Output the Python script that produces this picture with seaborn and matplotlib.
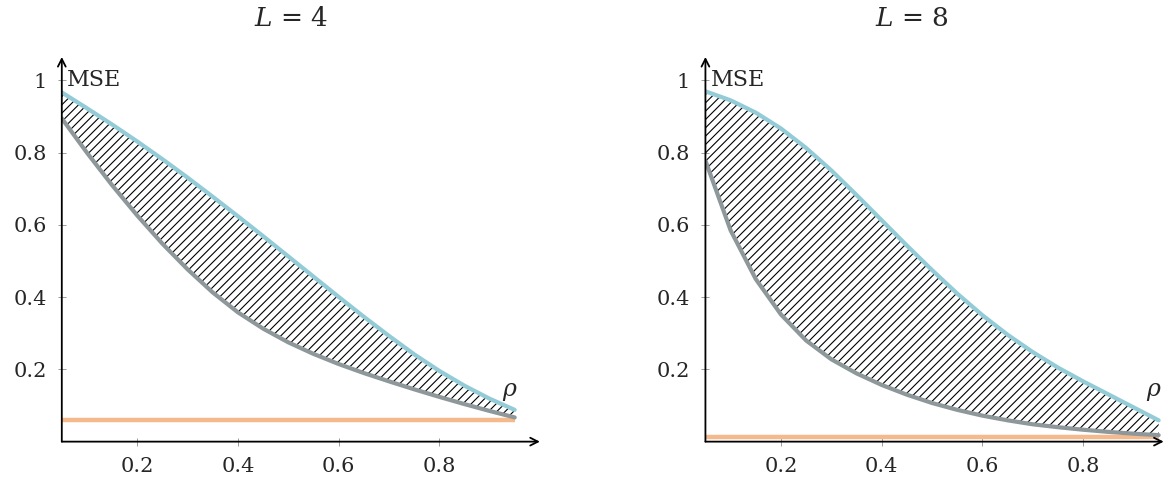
import seaborn as sns
import matplotlib.pyplot as plt
import pandas as pd
import numpy as np

rho = [0.05, 0.10, 0.15, 0.20, 0.25, 0.30, 0.35, 0.40, 0.45, 0.50,
       0.55, 0.60, 0.65, 0.70, 0.75, 0.80, 0.85, 0.90, 0.95]

# L = 4
upper_l4 = [0.967, 0.923, 0.878, 0.831, 0.782, 0.731, 0.678, 0.624, 0.569, 0.513,
            0.457, 0.401, 0.346, 0.293, 0.242, 0.196, 0.155, 0.119, 0.088]
lower_l4 = [0.895, 0.800, 0.710, 0.626, 0.548, 0.477, 0.413, 0.358, 0.313, 0.275,
            0.243, 0.215, 0.190, 0.167, 0.145, 0.124, 0.104, 0.085, 0.067]
floor_l4 = 0.059

# L = 8
upper_l8 = [0.970, 0.945, 0.911, 0.867, 0.813, 0.751, 0.683, 0.613, 0.543, 0.475,
            0.410, 0.350, 0.296, 0.248, 0.205, 0.167, 0.131, 0.095, 0.059]
lower_l8 = [0.778, 0.585, 0.450, 0.352, 0.280, 0.228, 0.189, 0.157, 0.130, 0.107,
            0.088, 0.072, 0.059, 0.048, 0.040, 0.033, 0.027, 0.022, 0.018]
floor_l8 = 0.013

titles = ['$L$ = 4', '$L$ = 8']
xticks = [0.2, 0.4, 0.6, 0.8]
yticks = [0.2, 0.4, 0.6, 0.8, 1.0]
ytick_labels = ['0.2', '0.4', '0.6', '0.8', '1']

blue = '#93cbd6'
gray = '#8e989a'
orange = '#f6b98c'

sns.set_style('white')
plt.rcParams['font.family'] = ['DejaVu Serif']
plt.rcParams['mathtext.fontset'] = 'dejavuserif'
plt.rcParams['hatch.linewidth'] = 0.8

fig = plt.figure(figsize=(11.66, 4.79), dpi=100)
ax1 = fig.add_axes([0.053, 0.078, 0.41, 0.803])
ax2 = fig.add_axes([0.605, 0.078, 0.393, 0.803])

panels = [(ax1, upper_l4, lower_l4, floor_l4, 1.0, 0.48),
          (ax2, upper_l8, lower_l8, floor_l8, 0.96, 0.45)]

for i, (ax, up, lo, fl, xmax, tx) in enumerate(panels):
    df = pd.DataFrame({'rho': rho, 'upper': up, 'lower': lo})
    ax.fill_between(df['rho'], df['lower'], df['upper'], facecolor='none',
                    edgecolor='black', hatch='////', linewidth=0)
    ax.plot([rho[0], rho[-1]], [fl, fl], color=orange, lw=3.2,
            solid_capstyle='butt', zorder=2)
    sns.lineplot(data=df, x='rho', y='lower', ax=ax, color=gray, lw=3,
                 solid_joinstyle='round', zorder=3)
    sns.lineplot(data=df, x='rho', y='upper', ax=ax, color=blue, lw=3,
                 solid_joinstyle='round', zorder=4)

    ax.set_xlim(0.05, xmax)
    ax.set_ylim(0, 1.065)
    for s in ax.spines.values():
        s.set_visible(False)
    arrow = dict(arrowstyle='->,head_length=0.55,head_width=0.28', lw=1.3,
                 color='black', shrinkA=0, shrinkB=0)
    ax.annotate('', xy=(1, 0), xytext=(0, 0), xycoords='axes fraction',
                arrowprops=arrow, annotation_clip=False, zorder=6)
    ax.annotate('', xy=(0, 1), xytext=(0, 0), xycoords='axes fraction',
                arrowprops=arrow, annotation_clip=False, zorder=6)

    ax.set_xticks(xticks)
    ax.set_xticklabels([f'{t:.1f}' for t in xticks])
    ax.set_yticks(yticks)
    ax.set_yticklabels(ytick_labels)
    ax.tick_params(direction='inout', length=6, width=0.6, color='0.55',
                   labelsize=15, bottom=True, left=True)
    ax.tick_params(axis='x', pad=8)
    ax.tick_params(axis='y', pad=8)
    ax.set_xlabel('')
    ax.set_ylabel('')
    ax.set_title(titles[i], fontsize=19, pad=22, x=tx)

    ax.text(0.06, 1.0, 'MSE', fontsize=16, va='center', ha='left')
    ax.text(0.94, 0.14, r'$\rho$', fontsize=17, va='center', ha='center')

fig.savefig('out.png', dpi=100)
